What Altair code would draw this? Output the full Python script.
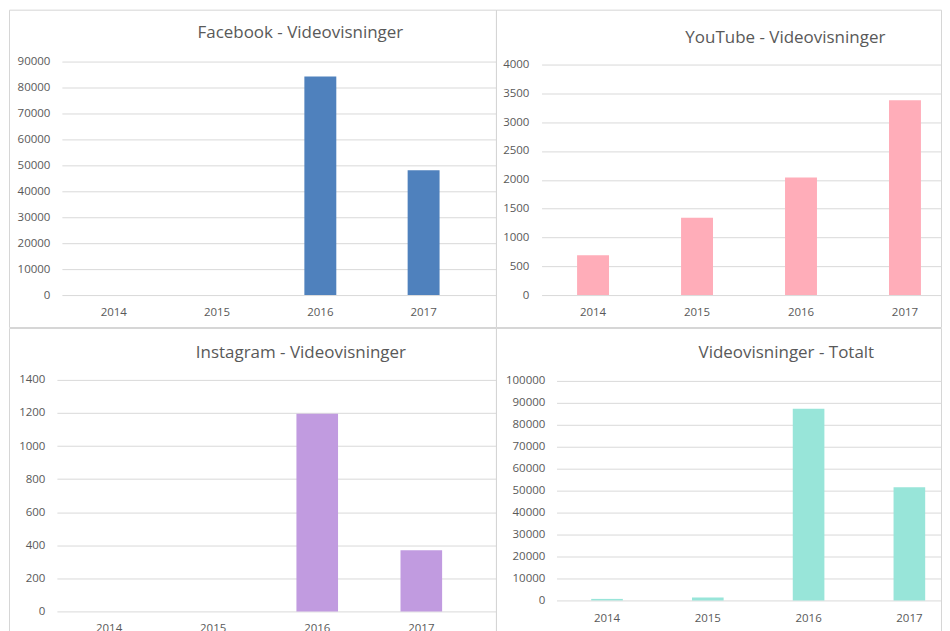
import altair as alt
import pandas as pd

years = ["2014", "2015", "2016", "2017"]
facebook = [0, 0, 84200, 48100]
youtube = [690, 1340, 2040, 3380]
instagram = [0, 0, 1195, 370]
totalt = [690, 1340, 87300, 51600]

FONT = "Open Sans"
TXT = "#595959"
GRID = "#d9d9d9"


def band_params(r0, r1, step, bw, c0):
    n = len(years)
    pi = 1 - bw / step
    k = (r1 - r0) / step
    po = (k - (n - pi)) / 2
    leftover = (r1 - r0) - step * (n - pi)
    al = (c0 - bw / 2 - r0) / leftover
    return pi, po, al


def panel(title, values, color, ymax, ystep, W, H, r0, r1, step, bw, c0, yr, yoff,
          xpad, tx, ty):
    df = pd.DataFrame({"year": years, "value": values})
    ticks = list(range(0, ymax + 1, ystep))
    pi, po, al = band_params(r0, r1, step, bw, c0)
    bars = alt.Chart(df).mark_bar(color=color).encode(
        x=alt.X("year:N", sort=years,
                scale=alt.Scale(range=[r0, r1], paddingInner=pi, paddingOuter=po, align=al),
                axis=alt.Axis(title=None, labelAngle=0, ticks=False, domain=False,
                              grid=False, offset=-(H - yr[0]), labelPadding=xpad,
                              labelFont=FONT, labelFontSize=11.5, labelColor=TXT)),
        y=alt.Y("value:Q",
                scale=alt.Scale(domain=[0, ymax], range=yr, nice=False, zero=True),
                axis=alt.Axis(title=None, values=ticks, format="d", ticks=False,
                              domain=False, grid=True, gridColor=GRID, gridWidth=1,
                              offset=yoff, labelPadding=2,
                              labelFont=FONT, labelFontSize=11.5, labelColor=TXT)),
    )
    head = alt.Chart(pd.DataFrame({"t": [title]})).mark_text(
        font=FONT, fontSize=17, color=TXT, align="center", baseline="middle"
    ).encode(text="t:N", x=alt.value(tx), y=alt.value(ty))
    return alt.layer(bars, head).properties(width=W, height=H)


fb = panel("Facebook - Videovisninger", facebook, "#4f81bd", 90000, 10000,
           488, 318, 53, 488, 103.5, 32, 105, [286, 52], -43, 11, 292, 23)
yt = panel("YouTube - Videovisninger", youtube, "#ffadb9", 4000, 500,
           446, 318, 45.7, 446, 104.2, 32, 97.3, [286, 55], -35, 11, 290, 28)
ig = panel("Instagram - Videovisninger", instagram, "#c19be0", 1400, 200,
           488, 318, 48, 488, 104.3, 41.7, 100.3, [284, 52], -38, 11, 292.5, 24.7)
tot = panel("Videovisninger - Totalt", totalt, "#98e5d9", 100000, 10000,
            446, 318, 60.7, 446, 101, 31.7, 111.3, [273, 53], -51, 12, 291, 24.7)

chart = alt.concat(fb, yt, ig, tot, columns=2, spacing={"row": 1, "column": 0},
                   bounds="flush").properties(
    padding=0
).configure_view(stroke="#d6d6d6", strokeWidth=1)

chart.save("out.html", embed_options={"renderer": "svg", "actions": False})
